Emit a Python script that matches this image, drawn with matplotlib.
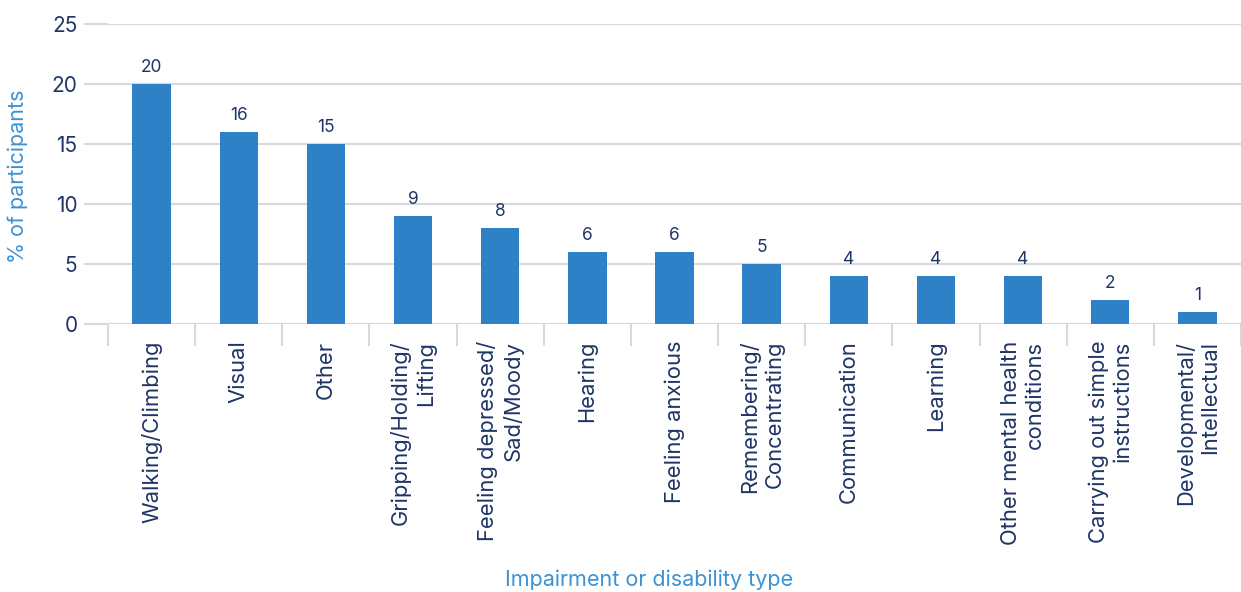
import numpy as np
import matplotlib
matplotlib.use('Agg')
import matplotlib.pyplot as plt

categories = ['Walking/Climbing', 'Visual', 'Other', 'Gripping/Holding/\nLifting',
              'Feeling depressed/\nSad/Moody', 'Hearing', 'Feeling anxious',
              'Remembering/\nConcentrating', 'Communication', 'Learning',
              'Other mental health\nconditions', 'Carrying out simple\ninstructions',
              'Developmental/\nIntellectual']
values = [20, 16, 15, 9, 8, 6, 6, 5, 4, 4, 4, 2, 1]
y_ticks = [0, 5, 10, 15, 20, 25]

bar_color = '#2e81c6'
text_color = '#1f3566'
label_color = '#3d92d3'
grid_color = '#d8d8e2'

plt.rcParams['font.family'] = ['Inter', 'DejaVu Sans']

fig = plt.figure(figsize=(12.41, 5.92), dpi=100)
ax = fig.add_axes([108 / 1241, 1 - 324 / 592, 1 - 108 / 1241, 300 / 592])

index = np.arange(len(categories))
ax.bar(index, values, 0.44, color=bar_color, zorder=3)

for i, v in enumerate(values):
    ax.text(i, v + 0.7, str(v), ha='center', va='bottom', fontsize=12.5, color=text_color)

ax.set_xlim(-0.5, len(categories) - 0.5)
ax.set_ylim(0, 25)
ax.set_yticks(y_ticks)
ax.yaxis.grid(True, color=grid_color, linewidth=1.5, zorder=0)
ax.tick_params(axis='y', length=17, width=1.5, color=grid_color, labelsize=15,
               labelcolor=text_color, pad=5)

# category labels, ticks at boundaries
ax.set_xticks(index)
ax.set_xticklabels(categories, rotation=90, fontsize=15.8, color=text_color,
                   multialignment='right', linespacing=1.25)
ax.tick_params(axis='x', length=0, pad=12)
ax.set_xticks(np.arange(len(categories) + 1) - 0.5, minor=True)
ax.tick_params(axis='x', which='minor', length=16, width=1.5, color=grid_color)

for s in ['top', 'right', 'left', 'bottom']:
    ax.spines[s].set_visible(False)
ax.axhline(0, color=grid_color, linewidth=1.5, zorder=1)

fig.text(18 / 1241, 1 - 176 / 592, '% of participants', rotation=90, ha='center',
         va='center', fontsize=15.5, color=label_color)
fig.text(649 / 1241, 1 - 580 / 592, 'Impairment or disability type', ha='center',
         va='center', fontsize=15.5, color=label_color)

fig.savefig('out.png', dpi=100)
